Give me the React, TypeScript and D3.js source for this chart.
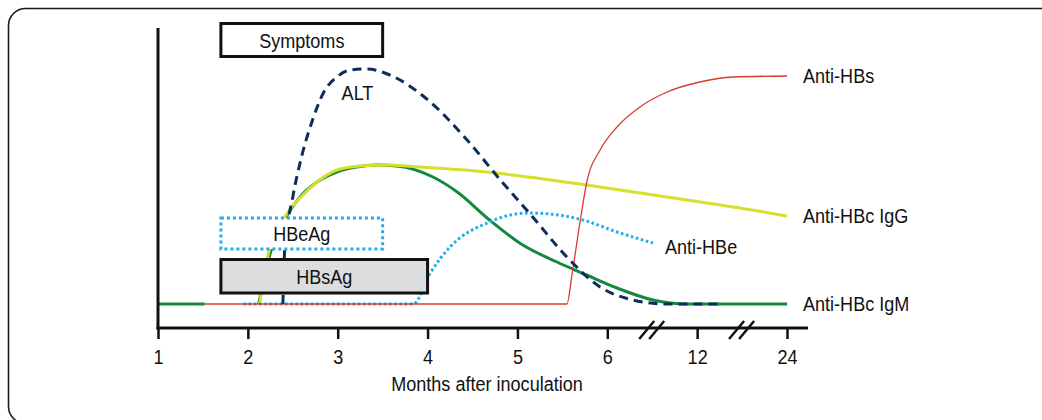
import { useEffect, useRef } from 'react';
import * as d3 from 'd3';

type Pt = [number, number | null];

// x axis is broken after 6 months: each tick gets the same width
const MONTH_TICKS = [1, 2, 3, 4, 5, 6, 12, 24];
const AXIS_BREAKS = [9, 18];
const X_TITLE = 'Months after inoculation';

// [month, relative level 0-100]; null = line not drawn there
const antiHBs: Pt[] = [
  [1.52, 0], [5.55, 0], [5.61, 12.4], [5.7, 33.6], [5.77, 48.4], [5.92, 61.6],
  [6.65, 70.8], [8.18, 78.8], [9.99, 84.8], [12.37, 88.8], [16.78, 90.8], [24, 91.2],
];

const antiHBcIgG: Pt[] = [
  [2.13, 0], [2.22, 18.8], [2.44, 36.4], [2.58, 42.4], [2.77, 48.8], [2.99, 53.6],
  [3.25, 55.2], [3.53, 55.6], [3.92, 54.8], [4.66, 52.8], [5.25, 50.2], [5.77, 47.6],
  [8.2, 44.4], [11.3, 41.6], [17.7, 38.4], [24, 35.2],
];

const antiHBcIgM: Pt[] = [
  [1, 0], [1.52, 0], [1.8, null], [2.12, 0], [2.25, 20.4], [2.44, 35.6], [2.58, 42.8],
  [2.77, 48.8], [2.99, 52.8], [3.21, 54.8], [3.44, 55.6], [3.66, 55.2], [4.06, 50.8],
  [4.33, 44.8], [4.69, 33.6], [5.06, 23.6], [5.44, 16.8], [5.77, 11.6], [6.65, 6.4],
  [9.05, 1.6], [11.3, 0], [24, 0],
];

const antiHBe: Pt[] = [
  [1.95, 0], [3.84, 0], [4.03, 12.4], [4.25, 22.8], [4.69, 32.8], [4.92, 35.6],
  [5.14, 36.4], [5.36, 36], [5.73, 33.6], [6.65, 28.8], [9.05, 24.4],
];

const alt: Pt[] = [
  [2.39, 0], [2.41, 21.6], [2.5, 42.8], [2.6, 59.2], [2.72, 73.6], [2.84, 84.4],
  [2.99, 90.8], [3.14, 93.6], [3.33, 94], [3.58, 91.6], [4.03, 80.8],
  [4.44, 65.6], [4.81, 49.6], [5.17, 34.8], [5.55, 18.8], [5.92, 6.8],
  [7.72, 1.6], [9.99, 0], [15.3, 0],
];

// clinical / antigen phases, [start month, end month]
const phaseLabels = ['Symptoms', 'HBeAg', 'HBsAg'];
const phaseSpans: [number, number][] = [[1.7, 3.5], [1.7, 3.5], [1.7, 4.0]];

const FONT = '"Liberation Sans", Arial, sans-serif';
const FONT_SIZE = 21;
const SQUEEZE = 0.86; // condensed look
const GREEN = '#14893d';
const YELLOW = '#d5e02c';
const RED = '#d93a2e';
const NAVY = '#0e2c5c';
const BLUE = '#1eaeea';

type Sel = d3.Selection<SVGSVGElement, unknown, null, undefined>;

function label(svg: Sel, x: number, y: number, text: string, anchor = 'start') {
  svg.append('text')
    .attr('transform', `translate(${x}, ${y}) scale(${SQUEEZE}, 1)`)
    .attr('text-anchor', anchor)
    .attr('font-family', FONT)
    .attr('font-size', FONT_SIZE)
    .attr('fill', '#111')
    .text(text);
}

export default function App() {
  const svgRef = useRef<SVGSVGElement>(null);

  useEffect(() => {
    if (!svgRef.current) return;
    const svg = d3.select(svgRef.current);
    svg.selectAll('*').remove();

    const x0 = 158;
    const x1 = 787;
    const step = (x1 - x0) / (MONTH_TICKS.length - 1);
    const x = d3.scaleLinear()
      .domain(MONTH_TICKS)
      .range(MONTH_TICKS.map((_, i) => x0 + i * step));
    const y = d3.scaleLinear().domain([0, 100]).range([304, 54]);
    const axisY = 328;

    // outer frame (runs off the right / bottom edge)
    svg.append('rect')
      .attr('x', 8.5).attr('y', 8.5)
      .attr('width', 1050).attr('height', 415)
      .attr('rx', 17)
      .attr('fill', 'none')
      .attr('stroke', '#1a1a1a')
      .attr('stroke-width', 1.6);

    const line = d3.line<Pt>()
      .defined(d => d[1] !== null)
      .x(d => x(d[0]))
      .y(d => y(d[1] as number))
      .curve(d3.curveMonotoneX);

    const series = [
      { data: antiHBcIgM, color: GREEN, width: 3, dash: null as string | null },
      { data: antiHBcIgG, color: YELLOW, width: 3, dash: null },
      { data: antiHBe, color: BLUE, width: 3, dash: '2.6,2.6' },
      { data: antiHBs, color: RED, width: 1.3, dash: null },
      { data: alt, color: NAVY, width: 3, dash: '9,6' },
    ];

    series.forEach(s => {
      svg.append('path')
        .datum(s.data)
        .attr('fill', 'none')
        .attr('stroke', s.color)
        .attr('stroke-width', s.width)
        .attr('stroke-dasharray', s.dash)
        .attr('d', line);
    });

    // phase boxes
    const boxRows = [
      { top: 23.5, h: 33, fill: '#fff', stroke: '#111', dash: null as string | null },
      { top: 218, h: 31, fill: '#fff', stroke: BLUE, dash: '3,3' },
      { top: 259.5, h: 33.5, fill: '#dcdddf', stroke: '#111', dash: null },
    ];
    phaseSpans.forEach(([a, b], i) => {
      const r = boxRows[i];
      svg.append('rect')
        .attr('x', x(a)).attr('y', r.top)
        .attr('width', x(b) - x(a)).attr('height', r.h)
        .attr('fill', r.fill)
        .attr('stroke', r.stroke)
        .attr('stroke-width', 3)
        .attr('stroke-dasharray', r.dash);
      label(svg, (x(a) + x(b)) / 2, r.top + r.h / 2 + 7.5, phaseLabels[i], 'middle');
    });

    // series labels
    const endLabels: { text: string; pt: Pt; dx: number; dy: number }[] = [
      { text: 'Anti-HBs', pt: antiHBs[antiHBs.length - 1], dx: 16, dy: 6.5 },
      { text: 'Anti-HBc IgG', pt: antiHBcIgG[antiHBcIgG.length - 1], dx: 16, dy: 6.5 },
      { text: 'Anti-HBc IgM', pt: antiHBcIgM[antiHBcIgM.length - 1], dx: 16, dy: 6.5 },
      { text: 'Anti-HBe', pt: antiHBe[antiHBe.length - 1], dx: 12, dy: 10.5 },
    ];
    endLabels.forEach(l => {
      label(svg, x(l.pt[0]) + l.dx, y(l.pt[1] as number) + l.dy, l.text);
    });
    label(svg, x(3.22), y(81.5), 'ALT', 'middle');

    // y axis (no ticks)
    svg.append('line')
      .attr('x1', x0).attr('x2', x0)
      .attr('y1', 28).attr('y2', axisY + 1.5)
      .attr('stroke', '#111')
      .attr('stroke-width', 3);

    // x axis
    const xAxis = svg.append('g')
      .attr('transform', `translate(0, ${axisY})`)
      .call(d3.axisBottom(x)
        .tickValues(MONTH_TICKS)
        .tickSize(11)
        .tickPadding(10)
        .tickFormat(d => String(d)));
    xAxis.select('.domain').remove();
    xAxis.selectAll('.tick line')
      .attr('stroke', '#111')
      .attr('stroke-width', 2.5);
    xAxis.selectAll('.tick text')
      .attr('transform', `scale(${SQUEEZE}, 1)`)
      .attr('font-family', FONT)
      .attr('font-size', FONT_SIZE)
      .attr('fill', '#111');

    svg.append('line')
      .attr('x1', x0 - 1.5).attr('x2', 808)
      .attr('y1', axisY).attr('y2', axisY)
      .attr('stroke', '#111')
      .attr('stroke-width', 3);

    // break marks  //
    AXIS_BREAKS.forEach(m => {
      const cx = x(m);
      [-5, 5].forEach(off => {
        svg.append('line')
          .attr('x1', cx + off - 8).attr('y1', axisY + 11)
          .attr('x2', cx + off + 7).attr('y2', axisY - 7)
          .attr('stroke', '#111')
          .attr('stroke-width', 2.5);
      });
    });

    label(svg, (x0 + 808) / 2 + 4, 391, X_TITLE, 'middle');
  }, []);

  return (
    <svg
      ref={svgRef}
      width={1042}
      height={420}
      style={{ position: 'absolute', left: 0, top: 0, background: '#fff' }}
    />
  );
}
